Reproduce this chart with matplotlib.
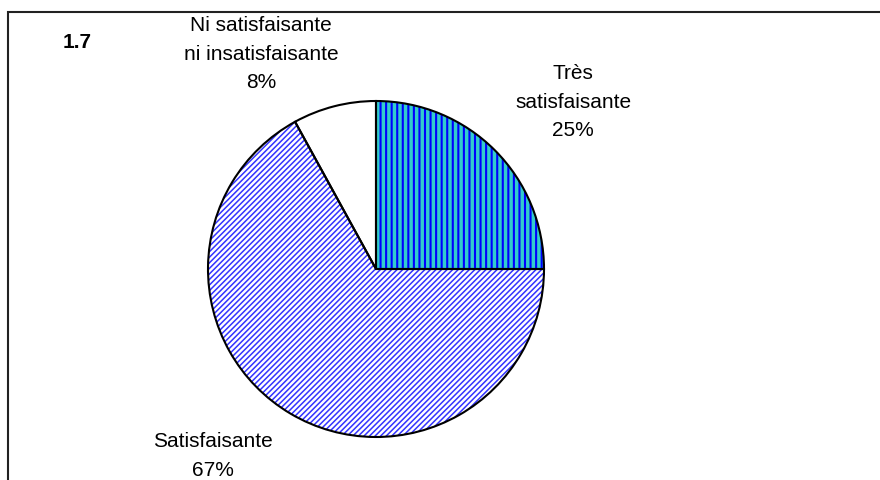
import matplotlib
matplotlib.use("Agg")
import matplotlib.pyplot as plt
from matplotlib.patches import Rectangle

# données du graphique 1.7
categories = ["Très\nsatisfaisante", "Satisfaisante", "Ni satisfaisante\nni insatisfaisante"]
values = [25, 67, 8]
title = "1.7"

W, H = 880, 481
plt.rcParams['font.family'] = ['Liberation Sans', 'DejaVu Sans']
plt.rcParams['hatch.linewidth'] = 1.1

fig = plt.figure(figsize=(W / 100, H / 100), dpi=100)

# cadre (haut et gauche visibles)
fig.patches.append(Rectangle((8 / W, -0.1), 1.2, (H - 13) / H + 0.1,
                             transform=fig.transFigure, fill=False,
                             edgecolor="#222222", linewidth=1.5))

cx, cy, r = 376, 270, 168
ax = fig.add_axes([(cx - r) / W, (H - cy - r) / H, 2 * r / W, 2 * r / H])

faces = ["#33CCCC", "white", "white"]
hatch_cols = ["#0000FF", "#3333FF", "white"]
hatches = ["|||", "//////", ""]
hatch_lw = [1.5, 1.1, 1.0]

wedges, _ = ax.pie(values, startangle=90, counterclock=False, radius=1,
                   colors=faces, wedgeprops=dict(linewidth=0))
for w, hc, h, lw in zip(wedges, hatch_cols, hatches, hatch_lw):
    w.set_hatch(h)
    w.set_edgecolor(hc)
    if hasattr(w, "set_hatch_linewidth"):
        w.set_hatch_linewidth(lw)

ax.pie(values, startangle=90, counterclock=False, radius=1,
       wedgeprops=dict(fill=False, edgecolor="black", linewidth=1.5))
ax.set_xlim(-1, 1)
ax.set_ylim(-1, 1)
ax.set_aspect("equal")
ax.axis("off")

def label(x, y, txt, **kw):
    fig.text(x / W, 1 - y / H, txt, ha="center", va="center",
             fontsize=15, linespacing=1.62, **kw)

label(573, 102, f"{categories[0]}\n{values[0]}%")
label(213, 456, f"{categories[1]}\n{values[1]}%")
label(261, 54, f"{categories[2]}\n{values[2]}%")
label(77, 42, title, fontweight="bold")

fig.savefig("out.png", dpi=100)
